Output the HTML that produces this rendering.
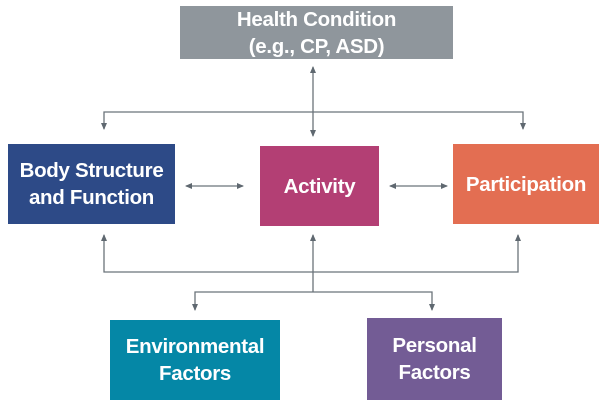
<!DOCTYPE html>
<html><head><style>
body{margin:0;width:600px;height:400px;background:#fff;position:relative;overflow:hidden;font-family:"Liberation Sans",Arial,sans-serif}
.b{position:absolute;color:#fff;font-weight:bold;font-size:20.5px;display:flex;align-items:center;justify-content:center;text-align:center;line-height:27px;box-sizing:border-box;letter-spacing:-0.3px}
</style></head><body>
<svg width="600" height="400" style="position:absolute;left:0;top:0">
<defs><marker id="a" markerWidth="8" markerHeight="8" refX="6" refY="4" orient="auto-start-reverse" markerUnits="userSpaceOnUse"><path d="M0,1 L7,4 L0,7 z" fill="#5f6870"/></marker></defs>
<g stroke="#6b737a" stroke-width="1.3" fill="none">
<line x1="313" y1="67" x2="313" y2="136" marker-start="url(#a)" marker-end="url(#a)"/>
<polyline points="104,129 104,112 523,112 523,129" marker-start="url(#a)" marker-end="url(#a)"/>
<line x1="186" y1="186" x2="243" y2="186" marker-start="url(#a)" marker-end="url(#a)"/>
<line x1="390" y1="186" x2="447" y2="186" marker-start="url(#a)" marker-end="url(#a)"/>
<polyline points="104,235 104,272 518,272 518,235" marker-start="url(#a)" marker-end="url(#a)"/>
<line x1="313" y1="292" x2="313" y2="235" marker-end="url(#a)"/>
<polyline points="195,310 195,292 432,292 432,310" marker-start="url(#a)" marker-end="url(#a)"/>
</g></svg>
<div class="b" style="left:180px;top:6px;width:273px;height:53px;background:#8f969c">Health Condition<br>(e.g., CP, ASD)</div>
<div class="b" style="left:8px;top:144px;width:167px;height:80px;background:#2d4a87">Body Structure<br>and Function</div>
<div class="b" style="left:260px;top:146px;width:119px;height:80px;background:#b33f74">Activity</div>
<div class="b" style="left:453px;top:144px;width:146px;height:80px;background:#e36e52">Participation</div>
<div class="b" style="left:110px;top:320px;width:170px;height:80px;background:#0587a6">Environmental<br>Factors</div>
<div class="b" style="left:367px;top:318px;width:135px;height:82px;background:#735c95">Personal<br>Factors</div>
</body></html>
